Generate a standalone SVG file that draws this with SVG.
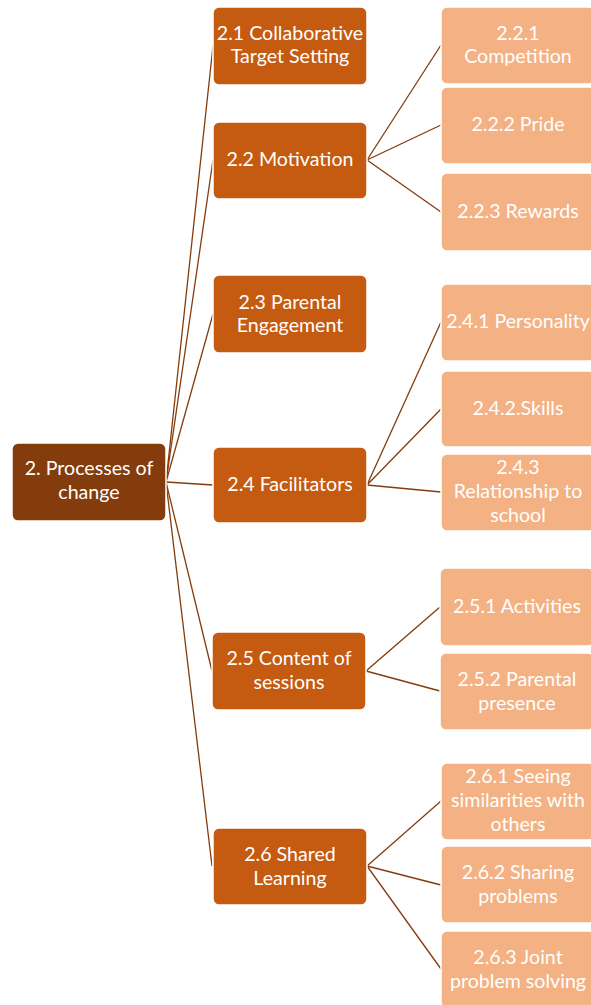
<svg xmlns="http://www.w3.org/2000/svg" width="591" height="1005" viewBox="0 0 591 1005">
<style>
.r{fill:#843C0C;stroke:#ffffff;stroke-width:1.5}
.b{fill:#C55A11;stroke:#ffffff;stroke-width:1.5}
.l{fill:#F4B183;stroke:#ffffff;stroke-width:1.5}
text{font-family:Lato,"Open Sans",sans-serif;font-size:19.6px;fill:#ffffff;text-anchor:middle}
.c line{stroke:#843C0C;stroke-width:1.3}
</style>
<rect width="591" height="1005" fill="#ffffff"/>
<g class="c" id="connectors">
<line x1="166" y1="482" x2="213" y2="46"/>
<line x1="166" y1="482" x2="213" y2="160"/>
<line x1="166" y1="482" x2="213" y2="314"/>
<line x1="166" y1="482" x2="213" y2="485"/>
<line x1="166" y1="482" x2="212" y2="671"/>
<line x1="166" y1="482" x2="212" y2="866"/>
<line x1="367" y1="160" x2="441" y2="45"/>
<line x1="367" y1="160" x2="441" y2="125"/>
<line x1="367" y1="160" x2="441" y2="212"/>
<line x1="367" y1="485" x2="441" y2="322"/>
<line x1="367" y1="485" x2="441" y2="409"/>
<line x1="367" y1="485" x2="441" y2="492"/>
<line x1="366" y1="671" x2="440" y2="607"/>
<line x1="366" y1="671" x2="440" y2="691"/>
<line x1="367" y1="866" x2="441" y2="801"/>
<line x1="367" y1="866" x2="441" y2="885"/>
<line x1="367" y1="866" x2="441" y2="969"/>
</g>
<g id="root"><rect class="r" x="12" y="443" width="154" height="78" rx="6"/><text x="89" y="475">2. Processes of</text><text x="89" y="499">change</text></g>
<g id="n21"><rect class="b" x="213" y="7" width="154" height="78" rx="6"/><text x="290" y="40">2.1 Collaborative</text><text x="290" y="63">Target Setting</text></g>
<g id="n22"><rect class="b" x="213" y="122" width="154" height="77" rx="6"/><text x="290" y="166">2.2 Motivation</text></g>
<g id="n23"><rect class="b" x="213" y="275" width="154" height="78" rx="6"/><text x="290" y="309">2.3 Parental</text><text x="290" y="332">Engagement</text></g>
<g id="n24"><rect class="b" x="213" y="447" width="154" height="76" rx="6"/><text x="290" y="491">2.4 Facilitators</text></g>
<g id="n25"><rect class="b" x="212" y="632" width="154" height="78" rx="6"/><text x="289" y="665">2.5 Content of</text><text x="289" y="689">sessions</text></g>
<g id="n26"><rect class="b" x="213" y="828" width="154" height="77" rx="6"/><text x="290" y="861">2.6 Shared</text><text x="290" y="885">Learning</text></g>
<g id="n221"><rect class="l" x="441" y="7" width="154" height="77" rx="6"/><text x="518" y="40">2.2.1</text><text x="518" y="63">Competition</text></g>
<g id="n222"><rect class="l" x="441" y="87" width="154" height="77" rx="6"/><text x="518" y="131">2.2.2 Pride</text></g>
<g id="n223"><rect class="l" x="441" y="173" width="154" height="78" rx="6"/><text x="518" y="218">2.2.3 Rewards</text></g>
<g id="n241"><rect class="l" x="441" y="284" width="154" height="77" rx="6"/><text x="518" y="328">2.4.1 Personality</text></g>
<g id="n242"><rect class="l" x="441" y="371" width="154" height="76" rx="6"/><text x="518" y="415">2.4.2.Skills</text></g>
<g id="n243"><rect class="l" x="441" y="454" width="154" height="77" rx="6"/><text x="518" y="474">2.4.3</text><text x="518" y="498">Relationship to</text><text x="518" y="522">school</text></g>
<g id="n251"><rect class="l" x="440" y="568" width="154" height="78" rx="6"/><text x="517" y="613">2.5.1 Activities</text></g>
<g id="n252"><rect class="l" x="440" y="653" width="154" height="77" rx="6"/><text x="517" y="686">2.5.2 Parental</text><text x="517" y="710">presence</text></g>
<g id="n261"><rect class="l" x="441" y="763" width="154" height="77" rx="6"/><text x="518" y="783">2.6.1 Seeing</text><text x="518" y="807">similarities with</text><text x="518" y="831">others</text></g>
<g id="n262"><rect class="l" x="441" y="846" width="154" height="77" rx="6"/><text x="518" y="879">2.6.2 Sharing</text><text x="518" y="903">problems</text></g>
<g id="n263"><rect class="l" x="441" y="931" width="154" height="77" rx="6"/><text x="518" y="964">2.6.3 Joint</text><text x="518" y="988">problem solving</text></g>
</svg>
